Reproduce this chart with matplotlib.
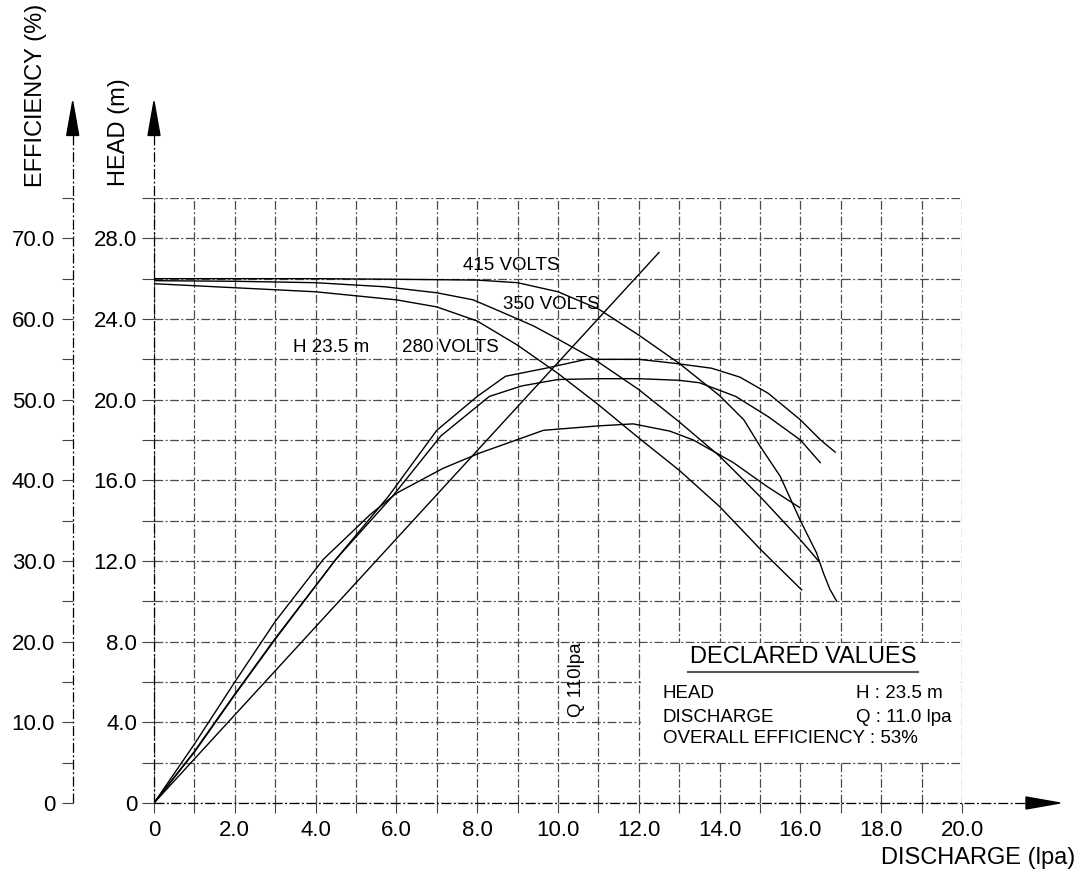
import matplotlib
matplotlib.use("Agg")
import matplotlib.pyplot as plt
from matplotlib.patches import Rectangle, Polygon

plt.rcParams['font.family'] = ['Liberation Sans', 'DejaVu Sans']

# ---------------- data ----------------
x_ticks = [0, 2, 4, 6, 8, 10, 12, 14, 16, 18, 20]
x_tick_labels = ["0", "2.0", "4.0", "6.0", "8.0", "10.0", "12.0", "14.0", "16.0", "18.0", "20.0"]
head_ticks = [0, 4, 8, 12, 16, 20, 24, 28]
head_tick_labels = ["0", "4.0", "8.0", "12.0", "16.0", "20.0", "24.0", "28.0"]
eff_ticks = [0, 10, 20, 30, 40, 50, 60, 70]
eff_tick_labels = ["0", "10.0", "20.0", "30.0", "40.0", "50.0", "60.0", "70.0"]

# head curves (m)
head_415_q = [0, 2, 4, 6, 8, 9, 10, 11, 12, 13, 14, 14.6, 15.0, 15.5, 16.0, 16.4, 16.57, 16.73, 16.9]
head_415 = [26.0, 26.0, 26.0, 25.97, 25.93, 25.8, 25.35, 24.5, 23.2, 21.8, 20.2, 19.0, 17.7, 16.2, 14.0, 12.4, 11.4, 10.6, 10.0]

head_350_q = [0, 2, 4, 5.7, 7.0, 7.9, 8.6, 9.4, 10.0, 10.9, 12.0, 13.0, 14.0, 15.0, 16.0, 16.45]
head_350 = [25.9, 25.87, 25.8, 25.6, 25.3, 24.95, 24.35, 23.65, 23.0, 22.0, 20.5, 18.9, 17.2, 15.2, 13.05, 12.0]

head_280_q = [0, 2, 3, 4, 5, 6, 7, 8, 9, 10, 11, 12, 13, 14, 15, 16.03]
head_280 = [25.75, 25.55, 25.45, 25.35, 25.15, 24.95, 24.6, 23.9, 22.7, 21.3, 19.75, 18.1, 16.5, 14.7, 12.6, 10.57]

# efficiency curves (%)
eff_415_q = [0, 1, 2, 3, 4.5, 5.8, 7.0, 8.0, 8.7, 9.7, 10.7, 12.0, 12.9, 13.8, 14.5, 15.2, 16.0, 16.5, 16.86]
eff_415 = [0, 6.4, 13.5, 20.4, 30.2, 38.0, 46.2, 50.4, 52.9, 53.9, 55.0, 55.0, 54.5, 53.9, 52.8, 50.8, 47.5, 45.0, 43.5]

eff_350_q = [0, 1, 2, 3, 4.5, 5.9, 7.1, 8.3, 9.1, 10.0, 11.0, 12.0, 13.0, 13.5, 14.4, 15.2, 16.0, 16.49]
eff_350 = [0, 6.3, 13.4, 20.3, 30.2, 38.0, 45.5, 50.4, 51.7, 52.5, 52.6, 52.6, 52.4, 52.1, 50.4, 47.9, 45.0, 42.2]

eff_280_q = [0, 1, 2, 3, 4.19, 5.35, 6.0, 7.16, 8.07, 9.64, 11.0, 11.86, 12.77, 13.35, 14.34, 15.17, 15.99]
eff_280 = [0, 7.3, 15.0, 22.5, 30.2, 35.75, 38.4, 41.5, 43.4, 46.2, 46.75, 47.0, 46.1, 45.0, 42.2, 39.25, 36.6]

# straight reference line (head m)
ref_q = [0, 12.5]
ref_head = [0, 27.3]

# ---------------- figure ----------------
W, H = 1081, 872
fig = plt.figure(figsize=(W / 100, H / 100), dpi=100)
x0px, x20px = 154, 962
y0px, y30px = 803, 198
ax = fig.add_axes([x0px / W, (H - y0px) / H, (x20px - x0px) / W, (y0px - y30px) / H])
ax.set_xlim(0, 20)
ax.set_ylim(0, 30)
for s in ax.spines.values():
    s.set_visible(False)
ax.set_axisbelow(True)

grid_ls = (0, (7, 2, 1.5, 2))
ax.set_xticks(x_ticks)
ax.set_xticklabels(x_tick_labels)
ax.set_xticks([v for v in range(1, 20, 2)], minor=True)
ax.set_yticks(head_ticks)
ax.set_yticklabels(head_tick_labels)
ax.set_yticks([v for v in range(2, 31, 4)], minor=True)
ax.grid(which='both', color='#4a4a4a', linestyle=grid_ls, linewidth=0.9)
ax.tick_params(axis='x', which='both', direction='out', length=7, width=0.8,
               color='#444444', labelsize=16, pad=5)
ax.tick_params(axis='y', which='both', direction='out', length=8.6, width=0.8,
               color='#444444', labelsize=16, pad=3.6)

# efficiency axis
ax2 = ax.twinx()
ax2.set_ylim(0, 75)
for s in ax2.spines.values():
    s.set_visible(False)
ax2.yaxis.tick_left()
ax2.spines['left'].set_position(('outward', (x0px - 72.7) * 0.72))
ax2.set_yticks(eff_ticks)
ax2.set_yticklabels(eff_tick_labels)
ax2.set_yticks([v for v in range(5, 76, 10)], minor=True)
ax2.tick_params(axis='y', which='both', direction='out', length=7.7, width=0.8,
                color='#444444', labelsize=16, pad=5)
ax2.tick_params(axis='y', which='both', right=False, labelright=False)

# white panel for declared values
ax.add_patch(Rectangle((12.06, 2.06), 7.88, 5.88, facecolor='white', edgecolor='none', zorder=1))

# axis lines with arrows
px = 1 / 40.4   # data units per pixel (x)
py = 1 / 20.15  # data units per pixel (y)
ax_line = dict(color='black', linestyle=(0, (8, 2, 1.5, 2)), linewidth=0.9, clip_on=False, zorder=3)
xe = -(x0px - 72.7) * px
tip_y = (y0px - 102) * py
base_y = (y0px - 136) * py
ax.plot([0, 0], [0, base_y], **ax_line)
ax.plot([xe, xe], [0, base_y], **ax_line)
ax.plot([0, (1026 - x0px) * px], [0, 0], **ax_line)
for xa in (0, xe):
    ax.add_patch(Polygon([[xa, tip_y], [xa - 6 * px, base_y], [xa + 6 * px, base_y]],
                         closed=True, facecolor='black', edgecolor='black', clip_on=False, zorder=4))
ax.add_patch(Polygon([[(1060 - x0px) * px, 0], [(1026 - x0px) * px, 6 * py], [(1026 - x0px) * px, -6 * py]],
                     closed=True, facecolor='black', edgecolor='black', clip_on=False, zorder=4))

# curves
lw = 1.0
ax.plot(head_415_q, head_415, color='black', lw=lw, zorder=5)
ax.plot(head_350_q, head_350, color='black', lw=lw, zorder=5)
ax.plot(head_280_q, head_280, color='black', lw=lw, zorder=5)
ax.plot(ref_q, ref_head, color='black', lw=lw, zorder=5)
ax2.plot(eff_415_q, eff_415, color='black', lw=lw, zorder=5)
ax2.plot(eff_350_q, eff_350, color='black', lw=lw, zorder=5)
ax2.plot(eff_280_q, eff_280, color='black', lw=lw, zorder=5)

# annotations
fs = 13.5
ax.text(7.65, 26.67, "415 VOLTS", fontsize=fs, ha='left', va='center', zorder=6)
ax.text(8.64, 24.7, "350 VOLTS", fontsize=fs, ha='left', va='center', zorder=6)
ax.text(6.14, 22.6, "280 VOLTS", fontsize=fs, ha='left', va='center', zorder=6)
ax.text(3.45, 22.6, "H 23.5 m", fontsize=fs, ha='left', va='center', zorder=6)
ax.text(10.45, 6.1, "Q 110lpa", fontsize=fs, rotation=90, ha='center', va='center', zorder=6)

ax.text(16.06, 7.26, "DECLARED VALUES", fontsize=17, ha='center', va='center', zorder=6)
ax.plot([13.22, 18.91], [6.52, 6.52], color='#555555', lw=1.5, zorder=6)
ax.text(12.59, 5.44, "HEAD", fontsize=fs, ha='left', va='center', zorder=6)
ax.text(12.59, 4.25, "DISCHARGE", fontsize=fs, ha='left', va='center', zorder=6)
ax.text(12.59, 3.21, "OVERALL EFFICIENCY : 53%", fontsize=fs, ha='left', va='center', zorder=6)
ax.text(17.38, 5.44, "H : 23.5 m", fontsize=fs, ha='left', va='center', zorder=6)
ax.text(17.38, 4.25, "Q : 11.0 lpa", fontsize=fs, ha='left', va='center', zorder=6)

# axis titles
fig.text(36 / W, 1 - 95 / H, "EFFICIENCY (%)", fontsize=17, rotation=90, ha='center', va='center')
fig.text(119 / W, 1 - 132 / H, "HEAD (m)", fontsize=17, rotation=90, ha='center', va='center')
fig.text(1075 / W, 1 - 858 / H, "DISCHARGE (lpa)", fontsize=17, ha='right', va='center')

fig.savefig("out.png", dpi=100, facecolor='white')
